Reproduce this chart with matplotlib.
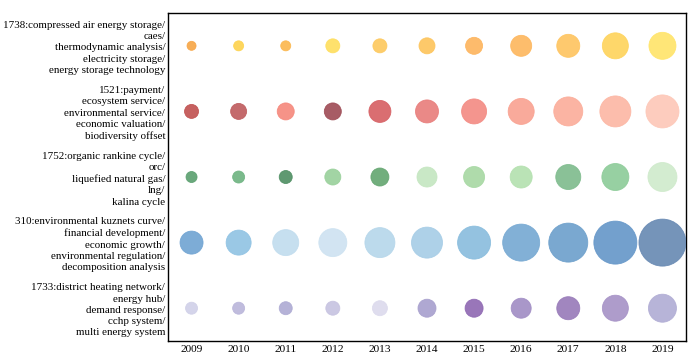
import matplotlib
matplotlib.use("Agg")
import matplotlib.pyplot as plt

plt.rcParams['font.family'] = ['Liberation Serif', 'DejaVu Serif']

years = list(range(2009, 2020))

topics = [
    "1738:compressed air energy storage/\ncaes/\nthermodynamic analysis/\nelectricity storage/\nenergy storage technology",
    "1521:payment/\necosystem service/\nenvironmental service/\neconomic valuation/\nbiodiversity offset",
    "1752:organic rankine cycle/\norc/\nliquefied natural gas/\nlng/\nkalina cycle",
    "310:environmental kuznets curve/\nfinancial development/\neconomic growth/\nenvironmental regulation/\ndecomposition analysis",
    "1733:district heating network/\nenergy hub/\ndemand response/\ncchp system/\nmulti energy system",
]

# bubble diameters (pixels)
caes_size = [9, 10, 10, 14, 14, 16, 17, 21, 23, 26, 27]
payment_size = [14, 16, 17, 17, 22, 23, 25, 26, 29, 31, 33]
orc_size = [11, 12, 13, 16, 18, 20, 21, 22, 25, 27, 29]
ekc_size = [23, 25, 26, 28, 30, 31, 33, 37, 39, 43, 47]
heating_size = [12, 12, 13, 14, 15, 18, 18, 20, 23, 26, 28]

caes_col = ['#f7a545', '#fdd24c', '#fbb64c', '#fede5c', '#fdc85c', '#fdc45a',
            '#fdb45c', '#fdb65c', '#fec45e', '#fed35a', '#ffe468']
payment_col = ['#c0504f', '#be5a5c', '#f5877b', '#9e4a54', '#d65e62', '#e87c7a',
               '#f38a82', '#f9a190', '#fbac99', '#fcb6a3', '#fdc7b7']
orc_col = ['#5a9f6e', '#6db380', '#4e8e62', '#98d09a', '#63a56f', '#c4e6c0',
           '#a6d8a2', '#b3e0ae', '#7dbb8c', '#8ccb98', '#cfeacb']
ekc_col = ['#6fa3d2', '#8fc2e3', '#c0dcee', '#cde2f1', '#b5d6ea', '#a5cce6',
           '#88bcdd', '#75a8d2', '#6c9fcb', '#6496c8', '#6688b2']
heating_col = ['#d0d0e8', '#b9b5da', '#adaad3', '#c6c2e0', '#dcdaed', '#a79fcd',
               '#8e67b2', '#a08cc4', '#9779b8', '#a591c6', '#b0acd4']

sizes = [caes_size, payment_size, orc_size, ekc_size, heating_size]
colors = [caes_col, payment_col, orc_col, ekc_col, heating_col]

fig = plt.figure(figsize=(7, 3.62), dpi=100)
ax = fig.add_axes([0.24, 0.058, 0.74, 0.906])

px_to_pt = 72 / fig.dpi
for i, (sz, col) in enumerate(zip(sizes, colors)):
    row = len(topics) - 1 - i
    s = [(d * px_to_pt) ** 2 for d in sz]
    ax.scatter(years, [row] * len(years), s=s, c=col, alpha=0.9,
               edgecolors=col, linewidths=0.6, zorder=3)

ax.set_xlim(2008.5, 2019.5)
ax.set_ylim(-0.5, len(topics) - 0.5)
ax.set_xticks(years)
ax.set_xticklabels([str(y) for y in years], fontsize=8.2)
ax.set_yticks(range(len(topics)))
ax.set_yticklabels(topics[::-1], fontsize=7.9, linespacing=1.32)
ax.tick_params(length=0)
ax.tick_params(axis='y', pad=2)
ax.tick_params(axis='x', pad=3)
for sp in ax.spines.values():
    sp.set_linewidth(1.0)

fig.savefig('out.png', dpi=100)
